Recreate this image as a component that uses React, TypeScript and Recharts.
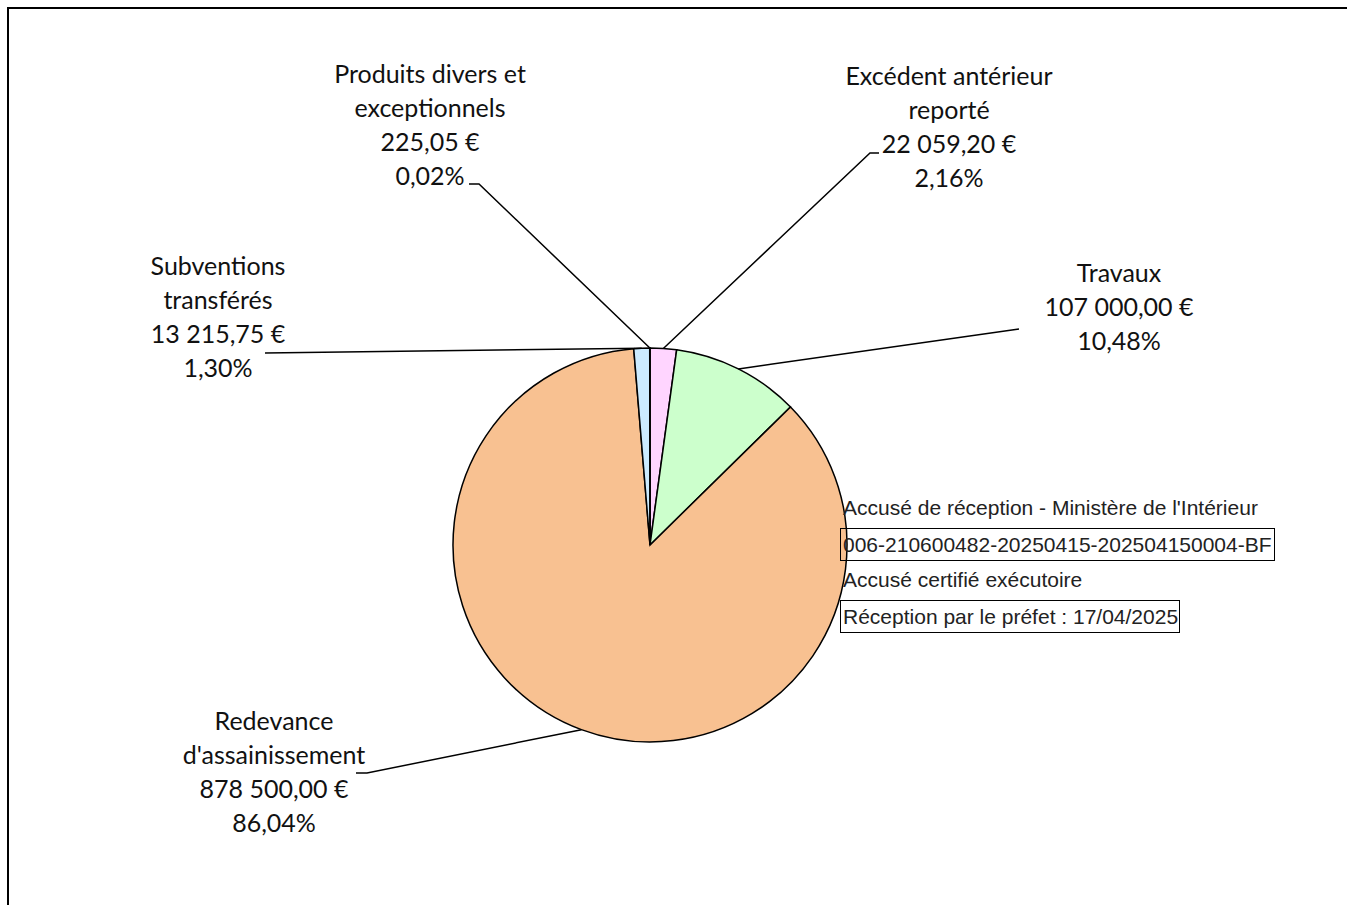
import { PieChart, Pie, Cell } from "recharts";

const categories = [
  "Excédent antérieur reporté",
  "Travaux",
  "Redevance d'assainissement",
  "Subventions transférés",
  "Produits divers et exceptionnels",
];

const amounts = [22059.2, 107000.0, 878500.0, 13215.75, 225.05];

const amountLabels = [
  "22 059,20 €",
  "107 000,00 €",
  "878 500,00 €",
  "13 215,75 €",
  "225,05 €",
];

const percentLabels = ["2,16%", "10,48%", "86,04%", "1,30%", "0,02%"];

// label text split the way the original wraps it
const nameLines = [
  ["Excédent antérieur", "reporté"],
  ["Travaux"],
  ["Redevance", "d'assainissement"],
  ["Subventions", "transférés"],
  ["Produits divers et", "exceptionnels"],
];

const colors = ["#FFD5FF", "#CCFFCC", "#F8C191", "#CCEBFF", "#FFFFFF"];

// where each label box sits and where its leader line ends (svg px)
const labelLayout = [
  { tx: 940, ty: 66, pts: [[861, 144], [870, 144]] },
  { tx: 1110, ty: 263, pts: [[1010, 320]] },
  { tx: 265, ty: 711, pts: [[358, 764], [347, 764]] },
  { tx: 209, ty: 256, pts: [[256, 344]] },
  { tx: 421, ty: 64, pts: [[470, 175], [460, 175]] },
];

const stampLines = [
  "Accusé de réception - Ministère de l'Intérieur",
  "006-210600482-20250415-202504150004-BF",
  "Accusé certifié exécutoire",
  "Réception par le préfet : 17/04/2025",
];

const data = categories.map((name, i) => ({ name, value: amounts[i] }));

const RAD = Math.PI / 180;
const LINE_H = 34;

function renderLabel(props: any) {
  const { cx, cy, midAngle, outerRadius, index } = props;
  const lay = labelLayout[index];
  const sx = cx + outerRadius * Math.cos(-midAngle * RAD);
  const sy = cy + outerRadius * Math.sin(-midAngle * RAD);
  const path =
    `M${sx},${sy}` + lay.pts.map((p) => ` L${p[0]},${p[1]}`).join("");
  const lines = [...nameLines[index], amountLabels[index], percentLabels[index]];
  return (
    <g key={`lbl-${index}`}>
      <path d={path} stroke="#000" strokeWidth={1.5} fill="none" />
      {lines.map((t, j) => (
        <text
          key={j}
          x={lay.tx}
          y={lay.ty + j * LINE_H}
          textAnchor="middle"
          dominantBaseline="central"
          fontFamily="Lato, 'Open Sans', sans-serif"
          fontSize={25}
          fill="#111"
        >
          {t}
        </text>
      ))}
    </g>
  );
}

export default function App() {
  return (
    <div
      style={{
        position: "fixed",
        left: 7,
        top: 7,
        width: 1400,
        height: 960,
        boxSizing: "border-box",
        borderTop: "2px solid #000",
        borderLeft: "2px solid #000",
        background: "#fff",
        overflow: "hidden",
      }}
    >
      <PieChart width={1398} height={958}>
        <Pie
          data={data}
          dataKey="value"
          nameKey="name"
          cx={636}
          cy={531}
          outerRadius={197}
          startAngle={90}
          endAngle={-270}
          stroke="#000"
          strokeWidth={1.5}
          labelLine={false}
          label={renderLabel}
          isAnimationActive={false}
        >
          {data.map((d, i) => (
            <Cell key={d.name} fill={colors[i]} />
          ))}
        </Pie>
      </PieChart>
      <div
        style={{
          position: "absolute",
          left: 831,
          top: 487,
          fontFamily: "'Liberation Sans', Arial, sans-serif",
          fontSize: 21,
          color: "#222",
          lineHeight: "24px",
        }}
      >
        <div style={{ position: "absolute", left: 3, top: 0, whiteSpace: "nowrap" }}>
          {stampLines[0]}
        </div>
        <div
          style={{
            position: "absolute",
            left: 0,
            top: 32,
            width: 435,
            height: 33,
            boxSizing: "border-box",
            border: "1px solid #000",
            padding: "4px 0 0 2px",
            whiteSpace: "nowrap",
          }}
        >
          {stampLines[1]}
        </div>
        <div style={{ position: "absolute", left: 3, top: 72, whiteSpace: "nowrap" }}>
          {stampLines[2]}
        </div>
        <div
          style={{
            position: "absolute",
            left: 0,
            top: 104,
            width: 340,
            height: 33,
            boxSizing: "border-box",
            border: "1px solid #000",
            padding: "4px 0 0 2px",
            whiteSpace: "nowrap",
          }}
        >
          {stampLines[3]}
        </div>
      </div>
    </div>
  );
}
